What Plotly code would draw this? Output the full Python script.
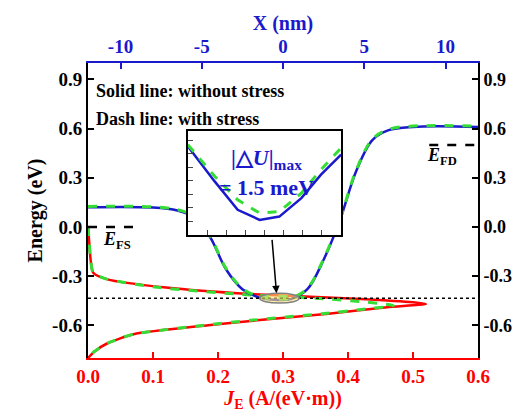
import plotly.graph_objects as go

# Potential profile (top axis X in nm)
x_nm = [-12, -8, -6.5, -5.5, -4.5, -3.5, -2.5, -1.5, -0.5, 0.5, 1.5, 2.5, 3.5, 4.5, 5.5, 6.5, 8, 12]
u_no = [0.12, 0.118, 0.10, 0.06, -0.06, -0.26, -0.38, -0.43, -0.445, -0.44, -0.38, -0.20, 0.04, 0.34, 0.53, 0.59, 0.61, 0.61]
u_st = [0.125, 0.122, 0.105, 0.065, -0.055, -0.255, -0.375, -0.425, -0.438, -0.434, -0.375, -0.195, 0.045, 0.345, 0.535, 0.595, 0.615, 0.615]

# Energy-resolved current density
e_red = [0.0, -0.1, -0.2, -0.28, -0.32, -0.37, -0.41, -0.44, -0.46, -0.47, -0.49, -0.53, -0.57, -0.6, -0.655, -0.71, -0.76, -0.8]
j_red = [0.0, 0.002, 0.004, 0.008, 0.03, 0.12, 0.25, 0.42, 0.50, 0.52, 0.46, 0.37, 0.26, 0.185, 0.07, 0.03, 0.01, 0.0]
e_grn = [0.0, -0.1, -0.2, -0.28, -0.32, -0.37, -0.41, -0.44, -0.46, -0.48, -0.50, -0.53, -0.57, -0.6, -0.655, -0.71, -0.76, -0.8]
j_grn = [0.0, 0.002, 0.004, 0.008, 0.03, 0.11, 0.23, 0.37, 0.43, 0.47, 0.43, 0.36, 0.25, 0.18, 0.07, 0.03, 0.01, 0.0]

# Inset
xi = [-1.6, -1.04, -0.56, -0.10, 0.31, 0.77, 1.18, 1.6]
ui_no = [8.55, 5.16, 2.42, 1.45, 1.77, 3.55, 5.81, 7.74]
ui_st = [8.7, 5.65, 3.39, 2.1, 2.26, 4.03, 6.29, 8.39]

# Tick labels
e_ticks = [-0.6, -0.3, 0, 0.3, 0.6, 0.9]
e_labels = ["-0.6", "-0.3", "0.0", "0.3", "0.6", "0.9"]
j_ticks = [0, 0.1, 0.2, 0.3, 0.4, 0.5, 0.6]
j_labels = ["0.0", "0.1", "0.2", "0.3", "0.4", "0.5", "0.6"]
x_ticks = [-10, -5, 0, 5, 10]
x_labels = ["-10", "-5", "0", "5", "10"]

def b(lst):
    return ["<b>%s</b>" % s for s in lst]

F = "Liberation Serif"
BLUE = "#1a1acc"
GREEN = "#33dd33"
fig = go.Figure()
fig.add_trace(go.Scatter(x=j_red, y=e_red, mode="lines", line=dict(color="red", width=2.5, shape="spline", smoothing=0.6), xaxis="x", yaxis="y"))
fig.add_trace(go.Scatter(x=j_grn, y=e_grn, mode="lines", line=dict(color=GREEN, width=3, dash="dash", shape="spline", smoothing=0.6), xaxis="x", yaxis="y"))
fig.add_trace(go.Scatter(x=x_nm, y=u_no, mode="lines", line=dict(color=BLUE, width=2.5, shape="spline"), xaxis="x2", yaxis="y"))
fig.add_trace(go.Scatter(x=x_nm, y=u_st, mode="lines", line=dict(color=GREEN, width=3, dash="dash", shape="spline"), xaxis="x2", yaxis="y"))
fig.add_trace(go.Scatter(x=[None], y=[None], xaxis="x", yaxis="y2"))
# inset background
fig.add_trace(go.Scatter(x=[-1.6, 1.6, 1.6, -1.6, -1.6], y=[0, 0, 10, 10, 0], fill="toself", fillcolor="white",
                         mode="lines", line=dict(width=0), xaxis="x3", yaxis="y3"))
fig.add_trace(go.Scatter(x=xi, y=ui_no, mode="lines", line=dict(color=BLUE, width=2.5), xaxis="x3", yaxis="y3"))
fig.add_trace(go.Scatter(x=xi, y=ui_st, mode="lines", line=dict(color=GREEN, width=3, dash="dash"), xaxis="x3", yaxis="y3"))

tf = dict(family=F, size=19, color="black")
fig.update_layout(
    width=520, height=417, showlegend=False, plot_bgcolor="white", paper_bgcolor="white",
    margin=dict(l=80, r=50, t=55, b=67),
    xaxis=dict(range=[0, 0.6], tickvals=j_ticks, ticktext=b(j_labels),
               linecolor="red", linewidth=2, ticks="inside", ticklen=6, tickwidth=2, tickcolor="red", showgrid=False, zeroline=False,
               tickfont=dict(family=F, size=19, color="red"),
               title=dict(text="<b><i>J</i><sub>E</sub> (A/(eV·m))</b>", font=dict(family=F, size=20, color="red"), standoff=2)),
    xaxis2=dict(range=[-12, 12], overlaying="x", side="top", tickvals=x_ticks, ticktext=b(x_labels), linecolor=BLUE,
                linewidth=2, ticks="inside", ticklen=6, tickwidth=2, tickcolor=BLUE, showgrid=False, zeroline=False,
                tickfont=dict(family=F, size=19, color=BLUE),
                title=dict(text="<b>X (nm)</b>", font=dict(family=F, size=20, color=BLUE), standoff=0)),
    yaxis=dict(range=[-0.8, 1.0], tickvals=e_ticks, ticktext=b(e_labels),
               linecolor="black", linewidth=2, ticks="inside", ticklen=6, tickwidth=2, tickcolor="black", showgrid=False, zeroline=False,
               tickfont=tf, title=dict(text="<b>Energy (eV)</b>", font=dict(family=F, size=20, color="black"), standoff=4)),
    yaxis2=dict(range=[-0.8, 1.0], overlaying="y", side="right", tickvals=e_ticks, ticktext=b(e_labels),
                linecolor="black", linewidth=2, ticks="inside", ticklen=6, tickwidth=2, tickcolor="black",
                showgrid=False, zeroline=False, tickfont=dict(family=F, size=18, color="black"), showline=True),
    xaxis3=dict(domain=[0.256, 0.649], anchor="y3", range=[-1.6, 1.6], showticklabels=False, ticks="inside", ticklen=5,
                dtick=0.4, tick0=-1.6, linecolor="black", linewidth=1.5, mirror=True, showgrid=False, zeroline=False),
    yaxis3=dict(domain=[0.417, 0.769], anchor="x3", range=[0, 10], showticklabels=False, ticks="inside", ticklen=5,
                dtick=1.3, linecolor="black", linewidth=1.5, mirror=True, showgrid=False, zeroline=False),
)

fig.add_shape(type="line", xref="x", yref="y", x0=0, x1=0.6, y0=-0.435, y1=-0.435, line=dict(color="black", width=1.5, dash="dot"))
fig.add_shape(type="line", xref="x", yref="y", x0=0, x1=0.07, y0=0, y1=0, line=dict(color="black", width=2.5, dash="dash"))
fig.add_shape(type="line", xref="x", yref="y", x0=0.525, x1=0.6, y0=0.5, y1=0.5, line=dict(color="black", width=2.5, dash="dash"))
fig.add_shape(type="circle", xref="x", yref="y", x0=0.264, x1=0.325, y0=-0.465, y1=-0.405,
              fillcolor="rgba(255,230,120,0.6)", line=dict(color="gray", width=1.5))
fig.add_annotation(xref="x", yref="y", x=0.29, y=-0.405, ax=0.283, ay=-0.07, axref="x", ayref="y",
                   showarrow=True, arrowhead=2, arrowsize=1, arrowwidth=1.5, arrowcolor="black", text="")
fig.add_annotation(xref="paper", yref="paper", x=0.015, y=0.945, xanchor="left", showarrow=False,
                   text="<b>Solid line: without stress</b>", font=dict(family=F, size=18, color="black"))
fig.add_annotation(xref="paper", yref="paper", x=0.015, y=0.85, xanchor="left", showarrow=False,
                   text="<b>Dash line: with stress</b>", font=dict(family=F, size=18, color="black"))
fig.add_annotation(xref="x", yref="y", x=0.045, y=-0.08, showarrow=False,
                   text="<b><i>E</i><sub>FS</sub></b>", font=dict(family=F, size=18, color="black"))
fig.add_annotation(xref="x", yref="y", x=0.545, y=0.43, showarrow=False,
                   text="<b><i>E</i><sub>FD</sub></b>", font=dict(family=F, size=18, color="black"))
fig.add_annotation(xref="x3", yref="y3", x=0.05, y=7.3, showarrow=False,
                   text="<b>|△<i>U</i>|<sub>max</sub></b>", font=dict(family=F, size=22, color=BLUE))
fig.add_annotation(xref="x3", yref="y3", x=0.05, y=4.6, showarrow=False,
                   text="<b>= 1.5 meV</b>", font=dict(family=F, size=22, color=BLUE))
fig.write_html("out.html")
